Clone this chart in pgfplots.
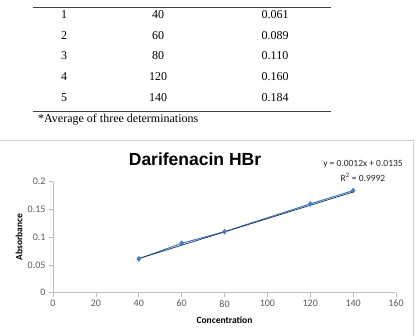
\documentclass[border=0pt]{standalone}
\usepackage{pgfplots}
\pgfplotsset{compat=1.18}
\usepackage{fontspec}
\setmainfont{Liberation Serif}
\newfontfamily\calibri{Carlito}
\newfontfamily\arial{Liberation Sans}
\definecolor{seriesblue}{RGB}{74,126,187}
\definecolor{trendblue}{RGB}{31,63,102}
\definecolor{ticktext}{RGB}{89,89,89}
\definecolor{axisgray}{RGB}{190,190,190}
\begin{document}
\begin{tikzpicture}
\path[use as bounding box] (0pt,0pt) rectangle (418pt,336pt);

% ---- table of calibration data ----
\draw[black!75, line width=0.7pt] (33pt,329pt) -- (331pt,329pt);
\draw[black!75, line width=0.7pt] (33pt,225pt) -- (331pt,225pt);
\begin{scope}[every node/.style={font=\fontsize{12}{14}\selectfont, inner sep=0pt}]
\node at (64pt,321pt)   {1};  \node at (158pt,321pt)   {40};  \node at (275pt,321pt)   {0.061};
\node at (64pt,300.4pt) {2};  \node at (158pt,300.4pt) {60};  \node at (275pt,300.4pt) {0.089};
\node at (64pt,280pt)   {3};  \node at (158pt,280pt)   {80};  \node at (275pt,280pt)   {0.110};
\node at (64pt,259pt)   {4};  \node at (158pt,259pt)   {120}; \node at (275pt,259pt)   {0.160};
\node at (64pt,238.3pt) {5};  \node at (158pt,238.3pt) {140}; \node at (275pt,238.3pt) {0.184};
\node[anchor=west, font=\fontsize{12}{14}\selectfont] at (38pt,216.5pt) {*Average of three determinations};
\end{scope}

% ---- chart frame ----
\draw[black!18, line width=0.6pt] (0pt,196pt) -- (413pt,196pt) -- (413pt,0pt);

\node[font=\arial\bfseries\fontsize{17.5}{20}\selectfont] at (195pt,177pt) {Darifenacin HBr};
\node[font=\calibri\fontsize{9.5}{11}\selectfont, text=black!85] at (363pt,172pt) {y = 0.0012x + 0.0135};
\node[font=\calibri\fontsize{9.5}{11}\selectfont, text=black!85] at (363pt,159pt) {R\textsuperscript{2} = 0.9992};

\begin{axis}[
  at={(53pt,43.3pt)}, anchor=origin,
  scale only axis, width=343pt, height=111pt,
  xmin=0, xmax=160, ymin=0, ymax=0.2,
  xtick={0,20,40,60,80,100,120,140,160},
  ytick={0,0.05,0.1,0.15,0.2},
  axis lines*=left,
  axis line style={draw=axisgray, line width=0.7pt},
  tick style={draw=axisgray, line width=0.7pt},
  tick align=outside, major tick length=4pt,
  /pgf/number format/assume math mode=true,
  ticklabel style={font=\calibri\fontsize{10}{12}\selectfont, text=ticktext},
  yticklabel style={/pgf/number format/fixed, /pgf/number format/precision=2},
  xlabel={Concentration}, ylabel={Absorbance},
  xlabel style={font=\calibri\bfseries\fontsize{9.5}{11}\selectfont, at={(axis description cs:0.5,-0.252)}, anchor=center},
  ylabel style={font=\calibri\bfseries\fontsize{9.5}{11}\selectfont, at={(axis description cs:-0.099,0.5)}, anchor=center},
  clip=false,
]
\addplot[color=seriesblue, line width=1pt, mark=diamond*, mark size=2.2pt, mark options={fill=seriesblue, draw=seriesblue}]
  coordinates {(40,0.061) (60,0.089) (80,0.110) (120,0.160) (140,0.184)};
\addplot[color=trendblue, line width=0.8pt] coordinates {(40,0.0615) (140,0.1815)};
\end{axis}
\end{tikzpicture}
\end{document}
